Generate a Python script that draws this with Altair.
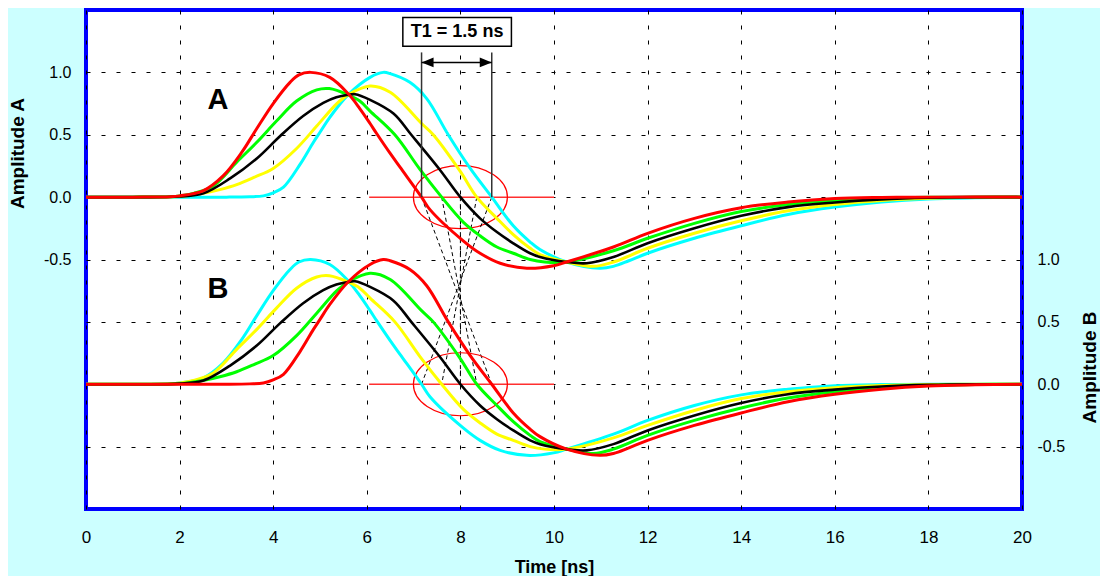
import altair as alt
import pandas as pd

# ---------------- curve data ----------------
RED_T = [0, 1, 1.8, 2.0, 2.5, 2.93, 3.33, 3.65, 4.0, 4.36, 4.55, 4.8, 5.21, 5.6, 5.85, 6.07, 6.21, 6.5, 6.71, 7.17,
         7.35, 8.06, 8.42, 8.85, 9.42, 9.99, 10.27, 11.27, 12, 13, 14, 15, 16, 17, 18, 20]
RED_V = [0, 0, 0.003, 0.01, 0.05, 0.17, 0.36, 0.55, 0.75, 0.92, 0.98, 1.0, 0.96, 0.83, 0.71, 0.59, 0.51, 0.35, 0.24, 0,
         -0.1, -0.35, -0.45, -0.53, -0.57, -0.55, -0.52, -0.40, -0.29, -0.17, -0.085, -0.04, -0.012, -0.003, 0, 0]

GREEN_T = [0, 1, 1.8, 2.0, 2.3, 2.72, 3.22, 3.65, 4.07, 4.5, 4.93, 5.2, 5.6, 5.85, 6.07, 6.6, 7.14, 7.6, 8.06, 8.42,
           8.78, 9.13, 9.49, 9.8, 10.27, 11.27, 12, 13, 14, 15, 16, 17, 18, 19, 20]
GREEN_V = [0, 0, 0.004, 0.01, 0.03, 0.09, 0.28, 0.44, 0.61, 0.77, 0.86, 0.87, 0.82, 0.77, 0.69, 0.5, 0.22, 0, -0.2, -0.31,
           -0.40, -0.45, -0.50, -0.52, -0.52, -0.43, -0.33, -0.21, -0.115, -0.06, -0.028, -0.01, -0.002, 0, 0]

BLACK_T = [0, 1, 2.0, 2.51, 3.08, 3.65, 4.15, 4.64, 5.07, 5.35, 5.6, 5.75, 6.07, 6.57, 6.95, 7.56, 8.0, 8.42, 8.78, 9.13,
           9.49, 9.7, 10.27, 10.7, 11.27, 12, 13, 14, 15, 16, 17, 18, 19, 20]
BLACK_V = [0, 0, 0.005, 0.03, 0.15, 0.31, 0.49, 0.65, 0.755, 0.80, 0.82, 0.825, 0.78, 0.67, 0.5, 0.22, 0, -0.17, -0.28, -0.37,
           -0.45, -0.48, -0.52, -0.53, -0.48, -0.37, -0.25, -0.15, -0.08, -0.043, -0.018, -0.005, 0, 0]

YELLOW_T = [0, 1, 2.0, 2.5, 2.86, 3.22, 3.6, 4.0, 4.5, 4.93, 5.36, 5.6, 6.07, 6.5, 7.17, 7.42, 7.99, 8.35, 8.78, 9.13,
            9.49, 9.7, 10.27, 10.84, 11.27, 12, 13, 14, 15, 16, 17, 18, 19, 20]
YELLOW_V = [0, 0, 0.005, 0.03, 0.06, 0.1, 0.16, 0.23, 0.39, 0.57, 0.75, 0.82, 0.89, 0.84, 0.59, 0.5, 0.21, 0, -0.17, -0.30,
            -0.41, -0.46, -0.52, -0.555, -0.52, -0.41, -0.29, -0.19, -0.11, -0.06, -0.028, -0.01, -0.002, 0]

CYAN_T = [0, 1, 2, 3, 3.5, 3.79, 4.0, 4.22, 4.57, 4.86, 5.0, 5.21, 5.6, 6.07, 6.35, 6.5, 6.92, 7.28, 7.74, 8.21, 8.67,
          9.13, 9.49, 9.7, 10.27, 10.98, 11.27, 11.6, 12, 13, 14, 15, 16, 17, 18, 19, 20]
CYAN_V = [0, 0, 0, 0, 0.003, 0.01, 0.035, 0.08, 0.26, 0.44, 0.52, 0.64, 0.82, 0.96, 1.0, 0.99, 0.92, 0.79, 0.5, 0.23, 0,
          -0.23, -0.36, -0.42, -0.52, -0.57, -0.555, -0.51, -0.45, -0.33, -0.23, -0.14, -0.08, -0.04, -0.015, -0.005, 0]

COLOURS = {"red": "#FF0000", "green": "#00FF00", "black": "#000000",
           "yellow": "#FFFF00", "cyan": "#00FFFF"}
A_CURVES = {"red": (RED_T, RED_V), "green": (GREEN_T, GREEN_V), "black": (BLACK_T, BLACK_V),
            "yellow": (YELLOW_T, YELLOW_V), "cyan": (CYAN_T, CYAN_V)}
B_CURVES = {"cyan": (RED_T, RED_V), "yellow": (GREEN_T, GREEN_V), "black": (BLACK_T, BLACK_V),
            "green": (YELLOW_T, YELLOW_V), "red": (CYAN_T, CYAN_V)}
DRAW_ORDER = ["cyan", "yellow", "green", "black", "red"]

# ---------------- annotation data ----------------
ZERO_SEG = [6.05, 10.0]
ELLIPSE_T = 8.0
CROSS_A = [7.17, 7.6, 8.0, 8.35, 8.67]
CROSS_B = [8.67, 8.35, 8.0, 7.6, 7.17]
B_ZERO_IN_A = -1.5
T1_MARKS = [7.17, 8.67]
T1_TOP = 1.16
ARROW_V = 1.08
BOX_T = [6.77, 9.09]
BOX_V = [1.21, 1.44]
BOX_TEXT = "T1 = 1.5 ns"
LABEL_A = ("A", 2.82, 0.78)
LABEL_B = ("B", 2.82, 0.76)

FONT = "Liberation Sans, Arial, sans-serif"
NARROW = "Liberation Sans Narrow, Liberation Sans, Arial, sans-serif"

ELLIPSE_PATH = ("M1,0C1,0.37 0.552,0.67 0,0.67C-0.552,0.67 -1,0.37 -1,0"
                "C-1,-0.37 -0.552,-0.67 0,-0.67C0.552,-0.67 1,-0.37 1,0Z")
ARROW_LEFT = "M0,0L2,-0.8L2,0.8Z"
ARROW_RIGHT = "M0,0L-2,-0.8L-2,0.8Z"

x_axis = alt.Axis(values=list(range(0, 21, 2)), title="Time [ns]", grid=True, gridColor="black",
                  gridDash=[4, 11], gridWidth=1, ticks=False, domain=False, labelPadding=20,
                  labelFont=NARROW, labelFontSize=17, labelColor="black", labelFlush=False,
                  titleFont=NARROW, titleFontSize=18, titleFontWeight="bold", titlePadding=13,
                  titleColor="black")
ya_axis = alt.Axis(orient="left", values=[-2, -1.5, -1, -0.5, 0, 0.5, 1],
                   labelExpr="datum.value < -0.6 ? '' : (datum.value < 0 ? '-' : '') + format(abs(datum.value), '.1f')",
                   title="Amplitude A", grid=True, gridColor="black", gridDash=[4, 11], gridWidth=1,
                   ticks=False, domain=False, labelPadding=15, labelFont=FONT, labelFontSize=16,
                   labelColor="black", titleFont=FONT, titleFontSize=19, titleFontWeight="bold",
                   titlePadding=16, titleColor="black", titleY=143)
yb_axis = alt.Axis(orient="right", values=[-0.5, 0, 0.5, 1],
                   labelExpr="(datum.value < 0 ? '-' : '') + format(abs(datum.value), '.1f')",
                   title="Amplitude B", titleAngle=270, grid=False, ticks=False, domain=False,
                   labelPadding=15, labelFont=FONT, labelFontSize=16, labelColor="black",
                   titleFont=FONT, titleFontSize=19, titleFontWeight="bold", titlePadding=35,
                   titleColor="black", titleY=357)


def X(field="t"):
    return alt.X(f"{field}:Q", scale=alt.Scale(domain=[0, 20], nice=False, zero=False), axis=x_axis)


def YA(field="v"):
    return alt.Y(f"{field}:Q", scale=alt.Scale(domain=[-2.5, 1.5], nice=False, zero=False), axis=ya_axis)


def YB(field="v"):
    return alt.Y(f"{field}:Q", scale=alt.Scale(domain=[-1, 3], nice=False, zero=False), axis=yb_axis)


def curve(colour, ts, vs, yenc):
    df = pd.DataFrame({"t": ts, "v": vs})
    return alt.Chart(df).mark_line(color=COLOURS[colour], strokeWidth=2.6 if colour == "black" else 3,
                                   interpolate="catmull-rom").encode(x=X(), y=yenc())


def zero_segment(yenc):
    df = pd.DataFrame({"t": [ZERO_SEG[0]], "t2": [ZERO_SEG[1]], "v": [0.0]})
    return alt.Chart(df).mark_rule(color="#FF3030", strokeWidth=1.5).encode(x=X(), x2="t2:Q", y=yenc())


def ellipse(yenc):
    df = pd.DataFrame({"t": [ELLIPSE_T], "v": [0.0]})
    return alt.Chart(df).mark_point(shape=ELLIPSE_PATH, size=8836, filled=False, color="#FF0000",
                                    strokeWidth=1.2, opacity=1).encode(x=X(), y=yenc())


def text_label(lab, yenc):
    df = pd.DataFrame({"t": [lab[1]], "v": [lab[2]], "txt": [lab[0]]})
    return alt.Chart(df).mark_text(font=FONT, fontSize=29, fontWeight="bold", color="black",
                                   baseline="middle", align="center").encode(x=X(), y=yenc(), text="txt:N")


# ---------------- group A (left axis) ----------------
layers_a = [zero_segment(YA), ellipse(YA)]
dash_df = pd.DataFrame({"t": CROSS_A, "t2": CROSS_B, "v": [0.0] * 5, "v2": [B_ZERO_IN_A] * 5})
layers_a.append(alt.Chart(dash_df).mark_rule(color="black", strokeDash=[4, 3], strokeWidth=1)
                .encode(x=X(), x2="t2:Q", y=YA(), y2="v2:Q"))
for c in DRAW_ORDER:
    layers_a.append(curve(c, *A_CURVES[c], YA))

vert_df = pd.DataFrame({"t": T1_MARKS, "v": [0.0, 0.0], "v2": [T1_TOP, T1_TOP]})
layers_a.append(alt.Chart(vert_df).mark_rule(color="#333333", strokeWidth=1.5)
                .encode(x=X(), y=YA(), y2="v2:Q"))
shaft_df = pd.DataFrame({"t": [T1_MARKS[0]], "t2": [T1_MARKS[1]], "v": [ARROW_V]})
layers_a.append(alt.Chart(shaft_df).mark_rule(color="black", strokeWidth=1.5)
                .encode(x=X(), x2="t2:Q", y=YA()))
layers_a.append(alt.Chart(pd.DataFrame({"t": [T1_MARKS[0]], "v": [ARROW_V]}))
                .mark_point(shape=ARROW_LEFT, size=144, filled=True, color="black", opacity=1, strokeWidth=0)
                .encode(x=X(), y=YA()))
layers_a.append(alt.Chart(pd.DataFrame({"t": [T1_MARKS[1]], "v": [ARROW_V]}))
                .mark_point(shape=ARROW_RIGHT, size=144, filled=True, color="black", opacity=1, strokeWidth=0)
                .encode(x=X(), y=YA()))
box_df = pd.DataFrame({"t": [BOX_T[0]], "t2": [BOX_T[1]], "v": [BOX_V[0]], "v2": [BOX_V[1]]})
layers_a.append(alt.Chart(box_df).mark_rect(fill="white", stroke="black", strokeWidth=1.5)
                .encode(x=X(), x2="t2:Q", y=YA(), y2="v2:Q"))
boxtxt_df = pd.DataFrame({"t": [(BOX_T[0] + BOX_T[1]) / 2], "v": [(BOX_V[0] + BOX_V[1]) / 2], "txt": [BOX_TEXT]})
layers_a.append(alt.Chart(boxtxt_df).mark_text(font=FONT, fontSize=18, fontWeight="bold", color="black",
                                               baseline="middle", align="center")
                .encode(x=X(), y=YA(), text="txt:N"))
layers_a.append(text_label(LABEL_A, YA))
group_a = alt.layer(*layers_a)

# ---------------- group B (right axis) ----------------
layers_b = [zero_segment(YB), ellipse(YB)]
for c in DRAW_ORDER:
    layers_b.append(curve(c, *B_CURVES[c], YB))
layers_b.append(text_label(LABEL_B, YB))
group_b = alt.layer(*layers_b)

chart = (alt.layer(group_a, group_b)
         .resolve_scale(y="independent")
         .properties(width=936, height=499, background="#CCFFFF",
                     padding={"left": 0, "right": 0, "top": 2, "bottom": 0})
         .configure_view(fill="white", stroke="#0000FF", strokeWidth=4))

chart.save("out.html", embed_options={"renderer": "svg", "actions": False})
